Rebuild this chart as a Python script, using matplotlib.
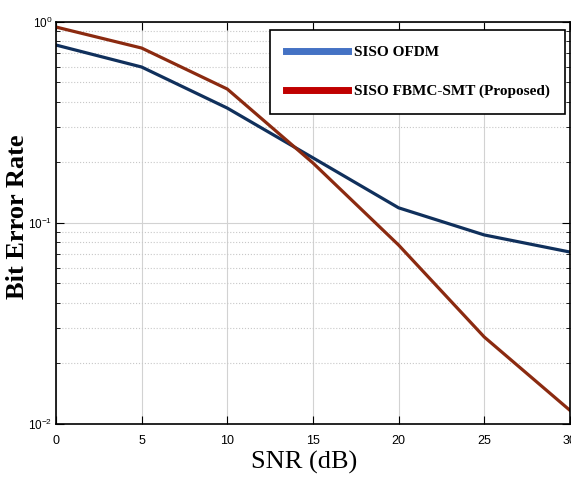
import matplotlib.pyplot as plt
from matplotlib.lines import Line2D

snr = [0, 5, 10, 15, 20, 25, 30]
ber_ofdm = [0.768, 0.597, 0.373, 0.211, 0.119, 0.0872, 0.0717]
ber_fbmc = [0.944, 0.742, 0.464, 0.199, 0.0777, 0.0271, 0.0117]
labels = ['SISO OFDM', 'SISO FBMC-SMT (Proposed)']

fig = plt.figure(figsize=(5.71, 4.78), dpi=100)
ax = fig.add_axes([0.098, 0.113, 0.9, 0.841])

ax.semilogy(snr, ber_ofdm, color='#10305c', lw=2.3)
ax.semilogy(snr, ber_fbmc, color='#8b2a10', lw=2.3)

ax.set_xlim(0, 30)
ax.set_ylim(1e-2, 1)
ax.set_xticks(range(0, 31, 5))

ax.grid(True, which='major', color='#d2d2d2', lw=0.8, ls='-')
ax.grid(True, which='minor', axis='y', color='#c8c8c8', lw=0.8, ls=':')
ax.tick_params(which='both', direction='in', top=True, right=True)
ax.tick_params(which='major', length=6)
ax.tick_params(axis='x', which='major', pad=8, labelsize=9)
ax.tick_params(axis='y', which='major', pad=2.5, labelsize=8.5)
ax.tick_params(which='minor', length=3)
for t in ax.get_xticklabels() + ax.get_yticklabels():
    t.set_family('Liberation Sans')
for s in ax.spines.values():
    s.set_linewidth(1.2)

ax.set_xlabel('SNR (dB)', family='Liberation Serif', fontsize=19)
ax.xaxis.set_label_coords(0.482, -0.068)
ax.set_ylabel('Bit Error Rate', family='Liberation Serif', fontsize=19,
              fontweight='bold')
ax.yaxis.set_label_coords(-0.052, 0.515)

handles = [Line2D([], [], color='#4472c4', lw=5),
           Line2D([], [], color='#c00000', lw=5)]
leg = ax.legend(handles, labels, loc='upper right', bbox_to_anchor=(0.99, 0.98),
                borderaxespad=0,
                prop={'family': 'Liberation Serif', 'weight': 'bold', 'size': 11},
                handlelength=4.1, handletextpad=0.35, labelspacing=1.66,
                borderpad=1.0, fancybox=False, framealpha=1, edgecolor='black')
leg.get_frame().set_linewidth(1.2)

fig.savefig('out.png', dpi=100)
